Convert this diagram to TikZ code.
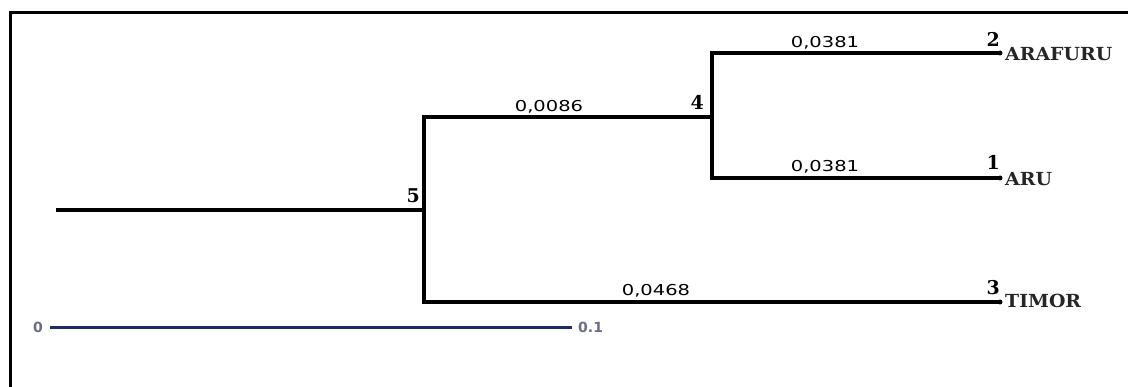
\documentclass[tikz,border=0pt]{standalone}
\usepackage{fontspec}
\usepackage{graphicx}
\newfontfamily\brfont{DejaVu Sans}
\newfontfamily\nodefont{DejaVu Serif}
\newfontfamily\taxfont{DejaVu Serif}
\definecolor{barblue}{HTML}{1E2A6E}
\definecolor{bartext}{HTML}{6A6A8A}
\newcommand{\wide}[2]{\scalebox{#1}[1]{#2}}
\tikzset{
  branch/.style={line width=3.5pt, line cap=rect},
  brlabel/.style={inner sep=0pt, anchor=base, font=\brfont\fontsize{15}{15}\selectfont, text=black},
  nodenum/.style={inner sep=0pt, anchor=base east, font=\nodefont\bfseries\fontsize{19}{19}\selectfont},
  taxon/.style={inner sep=0pt, anchor=base west, font=\taxfont\bfseries\fontsize{18}{18}\selectfont, text=black!85},
  tip/.style={circle, fill=black, inner sep=0pt, minimum size=5pt},
  scalelabel/.style={inner sep=0pt, font=\brfont\bfseries\fontsize{14}{14}\selectfont, text=bartext},
}
\begin{document}
\begin{tikzpicture}[x=1pt, y=-1pt]
\useasboundingbox (0,0) rectangle (1128,387);
% frame
\draw[line width=3pt] (10,390) -- (10,13) -- (1131,13);

% tree junctions and tips
\coordinate (root) at (58,210);
\coordinate (n5) at (424,210);
\coordinate (n5t) at (424,117);
\coordinate (n5b) at (424,302);
\coordinate (n4) at (712,117);
\coordinate (n4t) at (712,53);
\coordinate (n4b) at (712,178);
\node[tip] (t2) at (1000,53) {};
\node[tip] (t1) at (1000,178) {};
\node[tip] (t3) at (1000,302) {};

% branches
\draw[branch] (root) -- (n5);
\draw[branch] (n5t) -- (n5b);
\draw[branch] (n5t) -- (n4);
\draw[branch] (n4t) -- (n4b);
\draw[branch] (n4t) -- (t2.center);
\draw[branch] (n4b) -- (t1.center);
\draw[branch] (n5b) -- (t3.center);

% branch lengths
\node[brlabel] (l2) at (825,48) {\wide{1.3}{0,0381}};
\node[brlabel] (l1) at (825,172) {\wide{1.3}{0,0381}};
\node[brlabel] (l4) at (549,112) {\wide{1.3}{0,0086}};
\node[brlabel] (l3) at (656,296) {\wide{1.3}{0,0468}};

% node numbers
\node[nodenum] (k2) at (1000,47) {2};
\node[nodenum] (k1) at (1000,170) {1};
\node[nodenum] (k3) at (1000,295) {3};
\node[nodenum] (k4) at (704,110) {4};
\node[nodenum] (k5) at (420,203) {5};

% taxa
\node[taxon] (a2) at (1005,61) {\wide{1.05}{ARAFURU}};
\node[taxon] (a1) at (1005,186) {\wide{1.05}{ARU}};
\node[taxon] (a3) at (1005,308) {\wide{1.05}{TIMOR}};

% scale bar
\coordinate (s0) at (50,328);
\coordinate (s1) at (572,328);
\draw[barblue, line width=3pt] (s0) -- (s1);
\node[scalelabel, anchor=base east] (z0) at (43,333) {0};
\node[scalelabel, anchor=base west] (z1) at (578,333) {0.1};
\end{tikzpicture}
\end{document}
